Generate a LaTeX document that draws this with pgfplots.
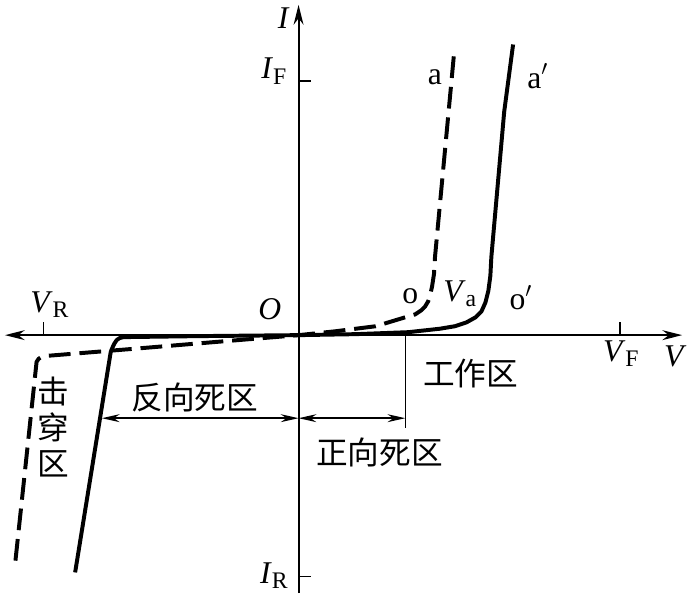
\documentclass[border=0pt]{standalone}
\usepackage{pgfplots}
\pgfplotsset{compat=1.18}
\usepackage{fontspec}
\setmainfont{Liberation Serif}
\newfontfamily\cjk{Noto Sans CJK SC}
\usetikzlibrary{arrows.meta}
\tikzset{lbl/.style={font=\fontsize{16}{17}\selectfont}, cjklbl/.style={font=\cjk\fontsize{16}{18}\selectfont}}
\newcommand{\sub}[1]{\raisebox{-0.35ex}{\fontsize{12}{12}\selectfont #1}}
\begin{document}
\begin{tikzpicture}
\begin{axis}[
  x=0.5pt, y=0.5pt,
  xmin=-302, xmax=391, ymin=-267, ymax=339,
  hide axis, clip=false,
]
\path (rel axis cs:0,0) rectangle (rel axis cs:1,1);
% axes
\addplot[black, line width=1pt, {Stealth[length=10pt,width=5pt]}-{Stealth[length=10pt,width=5pt]}] coordinates {(-297,0) (388,0)};
\addplot[black, line width=1pt, -{Stealth[length=10pt,width=5pt]}] coordinates {(0,-261) (0,334)};
% ticks
\addplot[black, line width=0.8pt] coordinates {(0,257) (13,257)};
\addplot[black, line width=0.8pt] coordinates {(0,-244) (13,-244)};
\addplot[black, line width=0.8pt] coordinates {(-258,0) (-258,13)};
\addplot[black, line width=0.8pt] coordinates {(325,0) (325,13)};
% solid curve a'
\addplot[black, line width=2pt, line join=round] coordinates {
(217,294) (208,226) (195,79) (194,60) (192,45) (189,33) (185,24) (179,18) (170,13) (158,9) (143,6.5) (111,3) (58,1) (0,0)
(-102,-1) (-177,-2) (-181,-3) (-184,-5) (-186,-8) (-188,-12) (-190,-17) (-226,-240)};
% dashed curve a
\addplot[black, line width=2pt, dash pattern=on 11pt off 4.5pt] coordinates {
(157,282) (138,79) (137,62) (135,49) (133,40) (131,34) (128,29) (124,25) (118,21) (111,19) (78,9) (38,4) (0,0)
(-85,-7) (-169,-14) (-255,-21) (-260,-22) (-263,-24) (-265,-27) (-287,-234)};
% dimension lines
\addplot[black, line width=0.8pt] coordinates {(108,3) (108,-94)};
\addplot[black, line width=0.8pt, {Stealth[length=9pt,width=4pt]}-{Stealth[length=9pt,width=4pt]}] coordinates {(-199,-84) (0,-84)};
\addplot[black, line width=0.8pt, {Stealth[length=9pt,width=4pt]}-{Stealth[length=9pt,width=4pt]}] coordinates {(0,-84) (108,-84)};
% labels
\node[lbl] at (axis cs:-15,321) {\textit{I}};
\node[lbl] at (axis cs:-25,267) {\textit{I}\sub{F}};
\node[lbl] at (axis cs:-25,-243) {\textit{I}\sub{R}};
\node[lbl] at (axis cs:-252,31) {\textit{V}\sub{R}};
\node[lbl] at (axis cs:-29,26) {\textit{O}};
\node[lbl] at (axis cs:326,-19) {\textit{V}\sub{F}};
\node[lbl] at (axis cs:381,-21) {\textit{V}};
\node[lbl] at (axis cs:138,261) {a};
\node[lbl] at (axis cs:242,262) {a$'$};
\node[lbl] at (axis cs:113,39) {o};
\node[lbl] at (axis cs:163,42) {\textit{V}\sub{a}};
\node[lbl] at (axis cs:225,38) {o$'$};
\node[cjklbl] at (axis cs:-105,-63) {反向死区};
\node[cjklbl] at (axis cs:82,-119) {正向死区};
\node[cjklbl] at (axis cs:174,-39) {工作区};
\node[cjklbl, align=center] at (axis cs:-248,-93) {击\\穿\\区};
\end{axis}
\end{tikzpicture}
\end{document}
